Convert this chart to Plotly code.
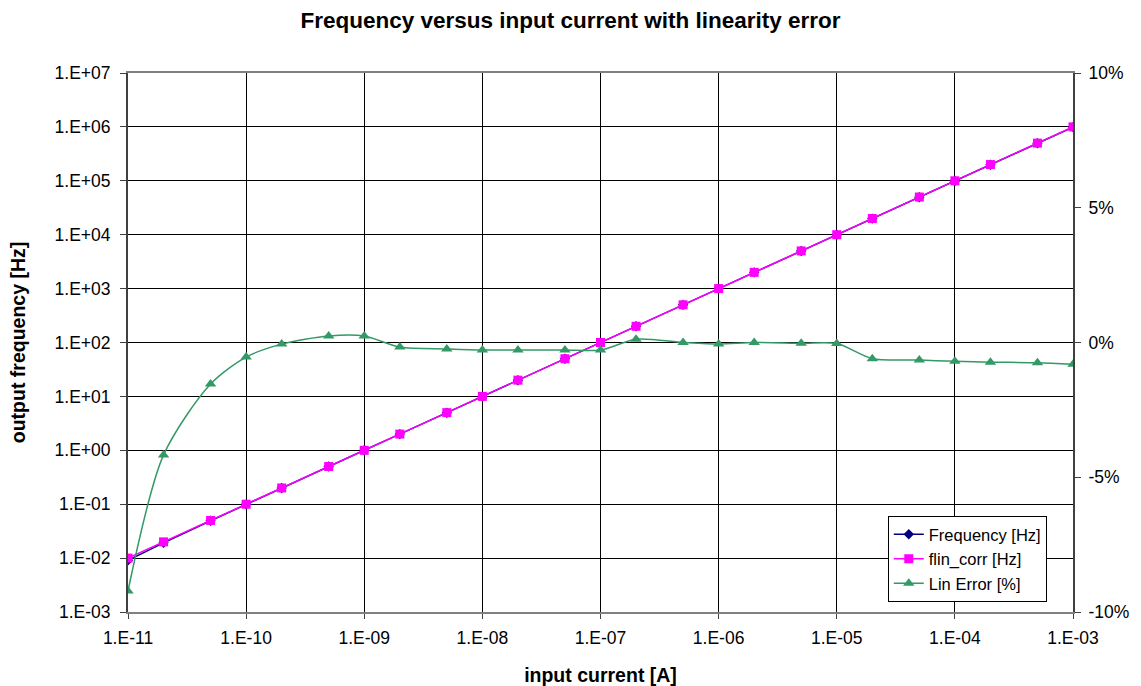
import plotly.graph_objects as go

# Input current sweep [A], 1-2-5 steps per decade
current = [1e-11, 2e-11, 5e-11, 1e-10, 2e-10, 5e-10, 1e-9, 2e-9, 5e-9,
           1e-8, 2e-8, 5e-8, 1e-7, 2e-7, 5e-7, 1e-6, 2e-6, 5e-6,
           1e-5, 2e-5, 5e-5, 1e-4, 2e-4, 5e-4, 1e-3]

# Measured output frequency [Hz]
frequency = [0.00908, 0.01917, 0.04923, 0.09946, 0.19988, 0.50120, 1.0024,
             1.9966, 4.9880, 9.972, 19.944, 49.86, 99.72, 200.24, 500.0,
             999.4, 2000.0, 4998.5, 9996.0, 19880, 49675, 99300, 198540,
             496250, 991900]

# Linearised (corrected) frequency [Hz]
flin_corr = [0.01, 0.02, 0.05, 0.1, 0.2, 0.5, 1, 2, 5, 10, 20, 50, 100,
             200, 500, 1000, 2000, 5000, 10000, 20000, 50000, 100000,
             200000, 500000, 1000000]

# Linearity error [%]
lin_error = [-9.22, -4.17, -1.54, -0.54, -0.06, 0.24, 0.24, -0.17, -0.24,
             -0.28, -0.28, -0.28, -0.28, 0.12, 0.0, -0.06, 0.0, -0.03,
             -0.04, -0.60, -0.65, -0.70, -0.73, -0.75, -0.81]

x_tickvals = [1e-11, 1e-10, 1e-9, 1e-8, 1e-7, 1e-6, 1e-5, 1e-4, 1e-3]
x_ticktext = ["1.E-11", "1.E-10", "1.E-09", "1.E-08", "1.E-07",
              "1.E-06", "1.E-05", "1.E-04", "1.E-03"]
y_tickvals = [1e-3, 1e-2, 1e-1, 1e0, 1e1, 1e2, 1e3, 1e4, 1e5, 1e6, 1e7]
y_ticktext = ["1.E-03", "1.E-02", "1.E-01", "1.E+00", "1.E+01", "1.E+02",
              "1.E+03", "1.E+04", "1.E+05", "1.E+06", "1.E+07"]
y2_tickvals = [-10, -5, 0, 5, 10]
y2_ticktext = ["-10%", "-5%", "0%", "5%", "10%"]

FONT = "Liberation Sans, Arial, sans-serif"
TICK_SIZE = 17.5

fig = go.Figure()

fig.add_trace(go.Scatter(
    x=current, y=frequency, name="Frequency [Hz]", mode="lines+markers",
    line=dict(color="#000080", width=1.5),
    marker=dict(symbol="diamond", size=8, color="#000080"),
))
fig.add_trace(go.Scatter(
    x=current, y=flin_corr, name="flin_corr [Hz]", mode="lines+markers",
    line=dict(color="#FF00FF", width=1.5),
    marker=dict(symbol="square", size=9, color="#FF00FF"),
))
fig.add_trace(go.Scatter(
    x=current, y=lin_error, name="Lin Error [%]", mode="lines+markers",
    yaxis="y2",
    line=dict(color="#339966", width=1.5, shape="spline", smoothing=0.8),
    marker=dict(symbol="triangle-up", size=10, color="#339966"),
))

fig.update_layout(
    width=1141, height=686,
    margin=dict(l=128, r=68, t=73, b=74, autoexpand=False),
    paper_bgcolor="white", plot_bgcolor="white",
    font=dict(family=FONT, size=TICK_SIZE, color="black"),
    title=dict(text="<b>Frequency versus input current with linearity error</b>",
               x=0.5, xanchor="center", y=0.970, yanchor="middle",
               font=dict(family=FONT, size=22.5, color="black")),
    xaxis=dict(
        type="log", range=[-11, -3], automargin=False,
        tickvals=x_tickvals, ticktext=x_ticktext,
        showgrid=True, gridcolor="black", gridwidth=1,
        showline=True, linecolor="#808080", linewidth=2, mirror=True,
        ticks="outside", ticklen=5, tickcolor="#404040",
        ticklabelstandoff=4,
        zeroline=False,
        title=dict(text="<b>input current [A]</b>", standoff=22,
                   font=dict(family=FONT, size=19.5)),
        tickfont=dict(family=FONT, size=TICK_SIZE),
    ),
    yaxis=dict(
        type="log", range=[-3, 7], automargin=False,
        tickvals=y_tickvals, ticktext=y_ticktext,
        showgrid=True, gridcolor="black", gridwidth=1,
        showline=True, linecolor="#404040", linewidth=2, mirror=False,
        ticks="outside", ticklen=6, tickcolor="#404040",
        ticklabelstandoff=6,
        zeroline=False,
        title=dict(text="<b>output frequency [Hz]</b>", standoff=24,
                   font=dict(family=FONT, size=19.5)),
        tickfont=dict(family=FONT, size=TICK_SIZE),
    ),
    yaxis2=dict(
        overlaying="y", side="right", range=[-10, 10], automargin=False,
        tickvals=y2_tickvals, ticktext=y2_ticktext,
        showgrid=False, zeroline=False,
        showline=True, linecolor="#404040", linewidth=2,
        ticks="outside", ticklen=6, tickcolor="#404040",
        ticklabelstandoff=4,
        tickfont=dict(family=FONT, size=TICK_SIZE),
    ),
    legend=dict(
        x=0.804, y=0.178, xanchor="left", yanchor="top",
        bgcolor="white", bordercolor="black", borderwidth=1,
        font=dict(family=FONT, size=16.5),
        tracegroupgap=0, itemwidth=30,
    ),
    showlegend=True,
)

fig.write_html("out.html")
